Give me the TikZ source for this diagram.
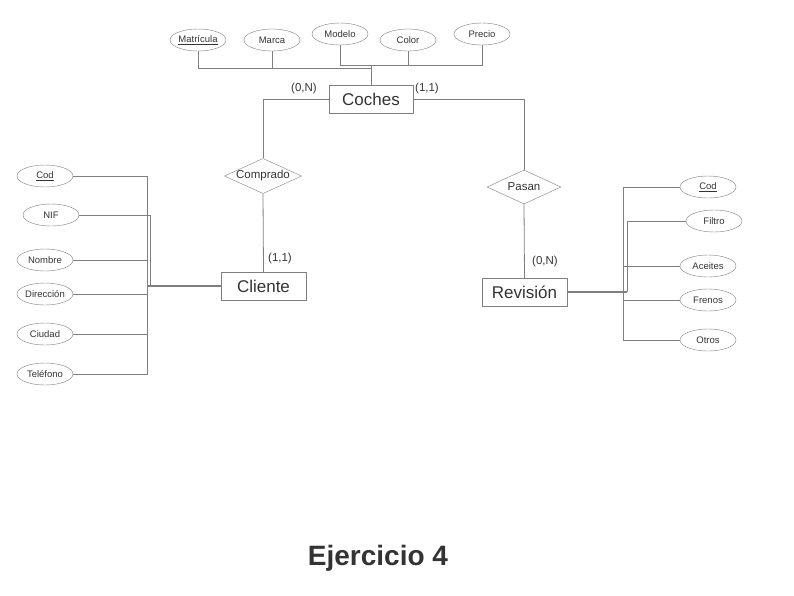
\documentclass[tikz,border=0pt]{standalone}
\usepackage{fontspec}
\setmainfont{Liberation Sans}
\usetikzlibrary{shapes.geometric}
\definecolor{ln}{HTML}{7F7F7F}
\definecolor{tx}{HTML}{333333}
\begin{document}
\begin{tikzpicture}[x=1pt,y=-1pt,
  attr/.style={draw=ln,ellipse,minimum width=56pt,minimum height=22pt,inner sep=0pt,text=tx,font=\fontsize{9.5}{11}\selectfont},
  ent/.style={draw=ln,rectangle,minimum height=28pt,inner sep=0pt,text=tx,font=\fontsize{17}{20}\selectfont},
  rel/.style={draw=ln,diamond,minimum width=74pt,minimum height=34pt,inner sep=0pt,aspect=2.2,text=tx,font=\fontsize{11.5}{13}\selectfont},
  card/.style={text=tx,font=\fontsize{11.5}{13}\selectfont,inner sep=0pt},
  conn/.style={draw=ln,line width=0.8pt},
  bus/.style={draw=ln,line width=1.4pt}]
\useasboundingbox (0,0) rectangle (794,595);
% entities
\node[ent,minimum width=84pt] (coches) at (371,99) {Coches};
\node[ent,minimum width=85pt] (cliente) at (263.5,286) {Cliente};
\node[ent,minimum width=85pt] (revision) at (524.5,292) {Revisión};
% relationships
\node[rel] (comp) at (263,176) {Comprado};
\node[rel] (pasan) at (524,187) {Pasan};
% cardinalities
\node[card] (c1) at (304,89) {(0,N)};
\node[card] (c2) at (427,89) {(1,1)};
\node[card] (c3) at (280,259) {(1,1)};
\node[card] (c4) at (545,262) {(0,N)};
% top attributes
\node[attr] (mat) at (198,40) {\underline{Matrícula}};
\node[attr] (mar) at (272,40) {Marca};
\node[attr] (mod) at (340,34) {Modelo};
\node[attr] (col) at (408,40) {Color};
\node[attr] (pre) at (482,34) {Precio};
% left attributes
\node[attr] (lcod) at (45,176) {\underline{Cod}};
\node[attr] (lnif) at (51,215) {NIF};
\node[attr] (lnom) at (45,260) {Nombre};
\node[attr] (ldir) at (45,294) {Dirección};
\node[attr] (lciu) at (45,334) {Ciudad};
\node[attr] (ltel) at (45,374) {Teléfono};
% right attributes
\node[attr] (rcod) at (708,187) {\underline{Cod}};
\node[attr] (rfil) at (714,221) {Filtro};
\node[attr] (race) at (708,266) {Aceites};
\node[attr] (rfre) at (708,300) {Frenos};
\node[attr] (rotr) at (708,340) {Otros};
% title
\node[text=tx,font=\bfseries\fontsize{28}{32}\selectfont,inner sep=0pt] (title) at (378,558) {Ejercicio 4};
% junction coordinates
\coordinate (jt) at (371,65);
\coordinate (jb) at (371,68);
\coordinate (lb) at (147,286);
\coordinate (lb2) at (150,286);
\coordinate (rb) at (623,292);
\coordinate (rb2) at (627,292);
% top connectors
\draw[conn] (mat.south) |- (jb);
\draw[conn] (mar.south) -- (mar.south |- jb);
\draw[conn] (mod.south) |- (pre.south |- jt) -- (pre.south);
\draw[conn] (col.south) -- (col.south |- jt);
\draw[conn] (jt) -- (coches.north);
% relationships
\draw[conn] (coches.west) -| (comp.north);
\draw[conn] (comp.south) -- (cliente.north);
\draw[conn] (coches.east) -| (pasan.north);
\draw[conn] (pasan.south) -- (revision.north);
% left connectors
\draw[conn] (lcod.east) -| (lb);
\draw[conn] (ltel.east) -| (lb);
\draw[conn] (lnif.east) -| (lb2);
\draw[conn] (lnom.east) -- (lnom.east -| lb);
\draw[conn] (ldir.east) -- (ldir.east -| lb);
\draw[conn] (lciu.east) -- (lciu.east -| lb);
\draw[bus] (lb) -- (cliente.west);
% right connectors
\draw[conn] (rcod.west) -| (rb);
\draw[conn] (rotr.west) -| (rb);
\draw[conn] (rfil.west) -| (rb2);
\draw[conn] (race.west) -- (race.west -| rb);
\draw[conn] (rfre.west) -- (rfre.west -| rb);
\draw[bus] (revision.east) -- (rb2);
\end{tikzpicture}
\end{document}
